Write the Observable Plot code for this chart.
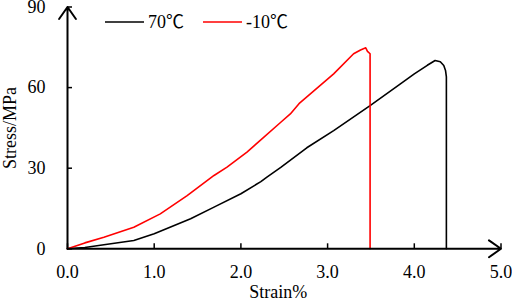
<!DOCTYPE html>
<html>
<head>
<meta charset="utf-8">
<script src="https://cdn.jsdelivr.net/npm/d3@7"></script>
<script src="https://cdn.jsdelivr.net/npm/@observablehq/plot@0.6"></script>
<style>
  body { margin: 0; background: #fff; }
  #chart { position: relative; width: 512px; height: 302px; }
</style>
</head>
<body>
<div id="chart"></div>
<script>
// Series: 70℃
const strain70 = [0, 0.2, 0.42, 0.765, 1.0, 1.42, 1.69, 2.0, 2.23, 2.30, 2.46, 2.76, 3.07, 3.49, 3.84, 4.0, 4.15, 4.24, 4.30, 4.34, 4.36, 4.37, 4.37];
const stress70 = [0, 0.5, 1.5, 3.1, 5.6, 11.2, 15.5, 20.5, 25.0, 26.7, 30.3, 37.6, 44.0, 53.3, 61.4, 65.1, 68.3, 70.1, 69.6, 68.2, 66.4, 64.0, 0];
// Series: -10℃
const strainM10 = [0, 0.2, 0.42, 0.765, 1.07, 1.38, 1.69, 1.84, 2.07, 2.46, 2.57, 2.67, 3.07, 3.30, 3.38, 3.44, 3.46, 3.49, 3.49];
const stressM10 = [0, 2.2, 4.3, 8.0, 13.0, 19.8, 27.3, 30.4, 36.0, 47.1, 50.2, 54.0, 65.1, 72.6, 74.0, 74.8, 73.5, 72.6, 0];

const seriesNames = ["70℃", "-10℃"];
const seriesColors = ["#000000", "#ff0000"];
const xTicks = [0, 1, 2, 3, 4, 5];
const yTicks = [0, 30, 60, 90];
const xLabel = "Strain%";
const yLabel = "Stress/MPa";

const d70 = strain70.map((x, i) => ({x, y: stress70[i], s: seriesNames[0]}));
const dM10 = strainM10.map((x, i) => ({x, y: stressM10[i], s: seriesNames[1]}));

const font = "'Liberation Serif', 'Noto Sans CJK SC', serif";

const plot = Plot.plot({
  width: 512,
  height: 302,
  marginLeft: 67,
  marginRight: 11.5,
  marginTop: 6.5,
  marginBottom: 53.7,
  style: {fontFamily: font, fontSize: "18px", color: "#000", background: "#fff"},
  x: {domain: [0, 5]},
  y: {domain: [0, 90]},
  color: {domain: seriesNames, range: seriesColors},
  marks: [
    Plot.axisX({ticks: xTicks, tickFormat: d => d.toFixed(1), tickSize: -5, tickPadding: 21, strokeWidth: 1.5, label: null, fontSize: 18}),
    Plot.axisY({ticks: yTicks, tickFormat: d => String(d), tickSize: -5, tickPadding: 27, strokeWidth: 1.5, label: null, fontSize: 18}),
    Plot.line(d70, {x: "x", y: "y", stroke: "s", strokeWidth: 1.6}),
    Plot.line(dM10, {x: "x", y: "y", stroke: "s", strokeWidth: 1.6}),
    Plot.arrow([{x1: 0, y1: 0, x2: 5, y2: 0}], {x1: "x1", y1: "y1", x2: "x2", y2: "y2", stroke: "#000", strokeWidth: 2, headLength: 11, headAngle: 70}),
    Plot.arrow([{x1: 0, y1: 0, x2: 0, y2: 90}], {x1: "x1", y1: "y1", x2: "x2", y2: "y2", stroke: "#000", strokeWidth: 2, headLength: 11, headAngle: 70}),
    Plot.text([xLabel], {frameAnchor: "bottom", textAnchor: "middle", dy: 49, dx: -6, text: d => d, fontSize: 18, fill: "#000"}),
    Plot.text([yLabel], {frameAnchor: "left", textAnchor: "middle", lineAnchor: "middle", dx: -57, rotate: -90, text: d => d, fontSize: 18, fill: "#000"})
  ]
});

document.getElementById("chart").appendChild(plot);

// Legend inside the plot area
const svg = d3.select(plot);
const lg = svg.append("g").style("font-family", font).style("font-size", "18px");
const legendX = [105, 203];
seriesNames.forEach((name, i) => {
  const x0 = legendX[i];
  lg.append("line").attr("x1", x0).attr("x2", x0 + 39).attr("y1", 22).attr("y2", 22)
    .attr("stroke", seriesColors[i]).attr("stroke-width", 1.6);
  lg.append("text").attr("x", x0 + 43).attr("y", 22).attr("dy", "0.35em")
    .style("text-anchor", "start").attr("fill", "#000").text(name);
});
</script>
</body>
</html>
